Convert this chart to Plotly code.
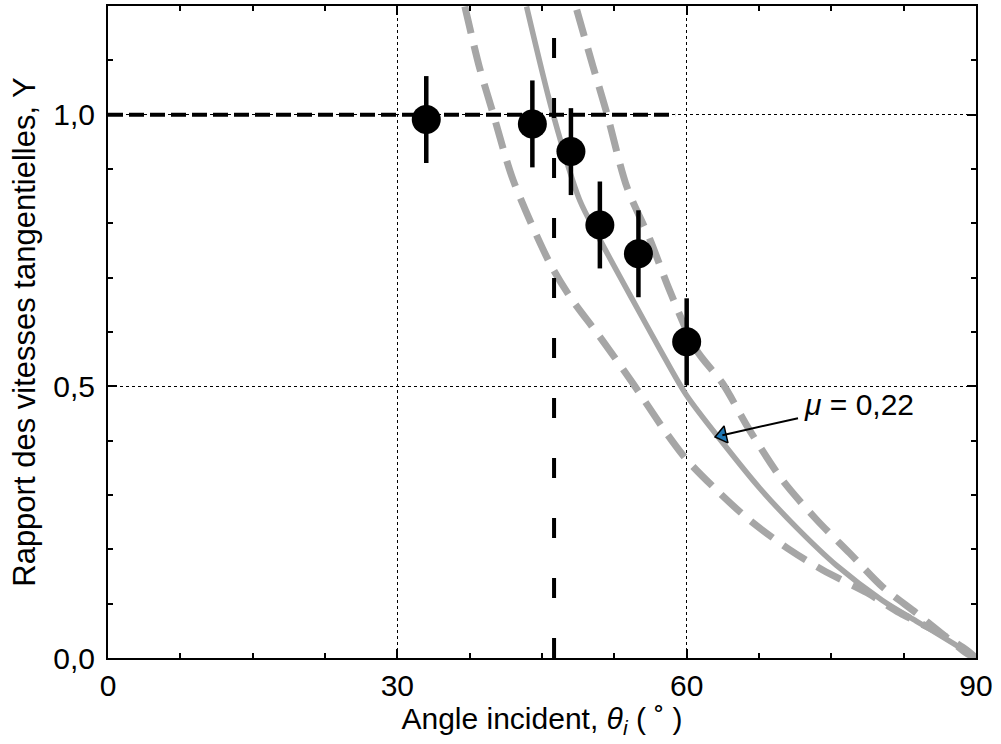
import plotly.graph_objects as go

# Experimental data
theta_exp = [33, 44, 48, 51, 55, 60]
Y_exp = [0.991, 0.983, 0.932, 0.797, 0.744, 0.582]
Y_err = [0.08, 0.08, 0.08, 0.08, 0.08, 0.08]

# Model curve, mu = 0.22 (solid)
theta_mu = [43.4, 46.1, 48.9, 51.0, 54.4, 57.2, 60.0, 63.7, 67.6, 71.4, 75.5, 80.3, 83.8, 87.0, 89.0, 90.0]
Y_mu = [1.199, 1.004, 0.843, 0.770, 0.659, 0.569, 0.483, 0.397, 0.312, 0.240, 0.171, 0.106, 0.068, 0.034, 0.012, 0.0]

# Upper bound (dashed, right)
theta_up = [48.6, 50.3, 51.7, 53.8, 56.2, 58.2, 61.0, 63.7, 66.5, 69.9, 73.5, 76.9, 80.3, 83.8, 87.3, 89.0, 90.0]
Y_up = [1.193, 1.088, 1.004, 0.867, 0.770, 0.678, 0.567, 0.506, 0.420, 0.328, 0.254, 0.193, 0.131, 0.083, 0.033, 0.009, 0.0]

# Lower bound (dashed, left)
theta_lo = [37.0, 38.5, 39.9, 42.0, 45.8, 47.9, 51.0, 54.4, 57.9, 60.0, 63.1, 66.5, 70.7, 74.1, 78.7, 82.1, 86.2, 89.0, 90.0]
Y_lo = [1.199, 1.088, 1.004, 0.880, 0.727, 0.665, 0.591, 0.506, 0.414, 0.365, 0.309, 0.254, 0.199, 0.162, 0.120, 0.083, 0.046, 0.015, 0.0]

# Reference lines
Y_stick = 1.0
theta_stick_end = 58.8
theta_crit = 46.25

# Annotation
mu_label = "<i>μ</i> = 0,22"
arrow_head = (63.7, 0.410)
arrow_tail = (71.7, 0.442)
label_pos = (72.0, 0.466)

x_ticks = [0, 30, 60, 90]
y_ticks = [0.0, 0.5, 1.0]

FONT = "Liberation Sans, Arial, sans-serif"
FS = 30
GRAY = "#a6a6a6"

fig = go.Figure()

fig.add_trace(go.Scatter(x=theta_lo, y=Y_lo, mode="lines", line_shape="spline",
                         line=dict(color=GRAY, width=7, dash="27px,13px", smoothing=0.8), showlegend=False))
fig.add_trace(go.Scatter(x=theta_up, y=Y_up, mode="lines", line_shape="spline",
                         line=dict(color=GRAY, width=7, dash="27px,13px", smoothing=0.8), showlegend=False))
fig.add_trace(go.Scatter(x=theta_mu, y=Y_mu, mode="lines", line_shape="spline",
                         line=dict(color=GRAY, width=5.5, smoothing=0.8), showlegend=False))

fig.add_trace(go.Scatter(x=[0, theta_stick_end], y=[Y_stick, Y_stick], mode="lines",
                         line=dict(color="black", width=4, dash="15px,6px"), showlegend=False))
fig.add_trace(go.Scatter(x=[theta_crit, theta_crit], y=[0, 1.2], mode="lines",
                         line=dict(color="black", width=4, dash="20px,40px"), showlegend=False))

fig.add_trace(go.Scatter(x=theta_exp, y=Y_exp, mode="markers",
                         marker=dict(color="black", size=29),
                         error_y=dict(type="data", array=Y_err, color="black", thickness=4.5, width=0),
                         showlegend=False))

# arrow line
fig.add_annotation(x=arrow_head[0], y=arrow_head[1], ax=arrow_tail[0], ay=arrow_tail[1],
                   xref="x", yref="y", axref="x", ayref="y", text="", showarrow=True,
                   arrowhead=0, arrowwidth=2, arrowcolor="black")
# blue arrow head
fig.add_trace(go.Scatter(x=[arrow_head[0]], y=[arrow_head[1]], mode="markers",
                         marker=dict(symbol="triangle-left", size=15, color="#1f77b4", angle=-13,
                                     line=dict(color="black", width=1.5)),
                         showlegend=False))
fig.add_annotation(x=label_pos[0], y=label_pos[1], xref="x", yref="y", text=mu_label,
                   showarrow=False, xanchor="left", yanchor="middle",
                   font=dict(family=FONT, size=FS, color="black"))

axis_common = dict(showline=True, linecolor="black", linewidth=2, mirror="ticks",
                   ticks="inside", ticklen=9, tickwidth=1.5, tickcolor="black",
                   showgrid=True, gridcolor="black", gridwidth=1, griddash="dot",
                   zeroline=False, tickfont=dict(family=FONT, size=FS, color="black"))

fig.update_xaxes(range=[0, 90], tickvals=x_ticks, ticktext=[str(v) for v in x_ticks],
                 minor=dict(dtick=7.5, tick0=0, ticks="inside", ticklen=5, tickwidth=1.5,
                            tickcolor="black", showgrid=False),
                 title=dict(text="Angle incident, <i>θ<sub>i</sub></i> ( ˚ )",
                            font=dict(family=FONT, size=FS, color="black"), standoff=4),
                 ticklabelstandoff=0,
                 **axis_common)
fig.update_yaxes(range=[0, 1.2], tickvals=y_ticks, tickformat=".1f",
                 minor=dict(dtick=0.1, tick0=0, ticks="inside", ticklen=5, tickwidth=1.5,
                            tickcolor="black", showgrid=False),
                 title=dict(text="Rapport des vitesses tangentielles, Y",
                            font=dict(family=FONT, size=31, color="black"), standoff=8),
                 ticklabelstandoff=5,
                 **axis_common)

fig.update_layout(width=1001, height=744, separators=", ",
                  margin=dict(l=108, r=25, t=6, b=86, autoexpand=False),
                  plot_bgcolor="white", paper_bgcolor="white",
                  font=dict(family=FONT, color="black"))

fig.write_html("out.html", config={"displayModeBar": False},
               post_script="document.body.style.margin='0';")
